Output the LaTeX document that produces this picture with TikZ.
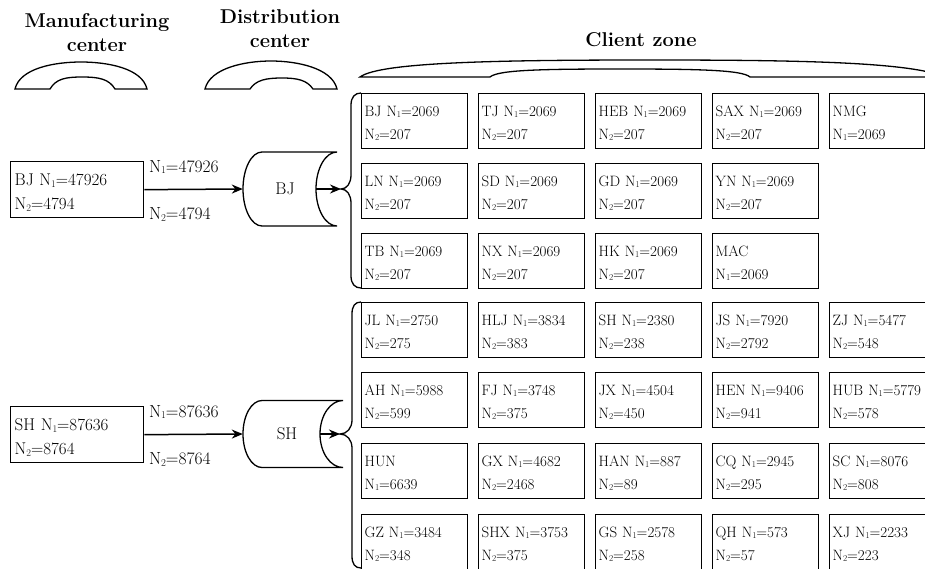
\documentclass[tikz,border=0pt]{standalone}
\usetikzlibrary{arrows.meta,calc}
\newcommand{\lowidx}[1]{\raisebox{-0.08em}{\scalebox{0.6}{#1}}}
\newcommand{\NOne}{N\lowidx{1}}
\newcommand{\NTwo}{N\lowidx{2}}
\begin{document}
\begin{tikzpicture}[x=1pt,y=-1pt,
  zonebox/.style={draw, line width=1.3pt, anchor=north west, inner xsep=3pt, inner ysep=0pt,
    text width=100pt, align=left, text height=22.5pt, text depth=32.5pt,
    font=\fontsize{15}{23.5}\selectfont},
  srcbox/.style={draw, line width=1.3pt, anchor=north west, inner xsep=4pt, inner ysep=0pt,
    text width=125pt, align=left, text height=24pt, text depth=32pt,
    font=\fontsize{17}{24}\selectfont},
  flowlbl/.style={anchor=base west, inner sep=0pt, font=\fontsize{17.5}{18}\selectfont},
  hdr/.style={anchor=north, align=center, inner sep=0pt, font=\fontsize{20}{23.5}\selectfont\bfseries},
  arr/.style={line width=1.5pt, -{Stealth[length=11pt,width=9pt]}},
  outline/.style={line width=1.3pt},
  hub/.style={inner sep=0pt, font=\fontsize{17}{18}\selectfont}]

\useasboundingbox (0,0) rectangle (925,568);
\clip (0,0) rectangle (925,568);

% ---- headers ----
\node[hdr] (mfg) at (97,13.5) {Manufacturing\\center};
\node[hdr] (dst) at (280,9.5) {Distribution\\center};
\node[hdr] (cli) at (641,32) {Client zone};

% header caps
\draw[outline] (15,89) .. controls (20,68) and (55,62) .. (81,62) .. controls (107,62) and (142,68) .. (147,89)
  -- (115,89) .. controls (109,79) and (99,77) .. (82,77) .. controls (65,77) and (56,79) .. (50,89) -- cycle;
\draw[outline] (205,89) .. controls (210,68) and (245,61) .. (271,61) .. controls (297,61) and (332,68) .. (337,89)
  -- (313,89) .. controls (307,80) and (297,78) .. (282,78) .. controls (266,78) and (256,80) .. (250,89) -- cycle;
\draw[outline] (360,77) .. controls (380,62) and (500,60) .. (650,60) .. controls (800,60) and (910,62) .. (945,77)
  -- (750,77) .. controls (742,70) and (700,69) .. (620,69) .. controls (540,69) and (498,70) .. (490,77) -- cycle;

% ---- manufacturing centers ----
\node[srcbox] (bjm) at (10,161) {BJ \NOne=47926\\\NTwo=4794};
\node[srcbox] (shm) at (10,406) {SH \NOne=87636\\\NTwo=8764};

% ---- distribution centers (cylinders) ----
\node[minimum width=94pt, minimum height=74pt, inner sep=0pt] (bjdc) at (290,189) {};
\draw[outline] (262,152) -- (337,152) (262,226) -- (337,226)
  (262,152) .. controls (251.5,152) and (243,168.6) .. (243,189) .. controls (243,209.4) and (251.5,226) .. (262,226)
  (337,152) .. controls (325.4,152) and (316,168.6) .. (316,189) .. controls (316,209.4) and (325.4,226) .. (337,226);
\node[hub] (bjlbl) at (285,189) {BJ};

\node[minimum width=100pt, minimum height=67pt, inner sep=0pt] (shdc) at (293,434) {};
\draw[outline] (262,400.5) -- (343,400.5) (262,467.5) -- (343,467.5)
  (262,400.5) .. controls (251.5,400.5) and (243,415.5) .. (243,434) .. controls (243,452.5) and (251.5,467.5) .. (262,467.5)
  (343,400.5) .. controls (330.3,400.5) and (320,415.5) .. (320,434) .. controls (320,452.5) and (330.3,467.5) .. (343,467.5);
\node[hub] (shlbl) at (287,434) {SH};

% ---- flows from manufacturing to distribution ----
\draw[arr] (bjm.east) -- (bjdc.west)
  node[flowlbl, pos=0, xshift=4pt, yshift=17.5pt] {\NOne=47926}
  node[flowlbl, pos=0, xshift=4pt, yshift=-30pt] {\NTwo=4794};
\draw[arr] (shm.east) -- (shdc.west)
  node[flowlbl, pos=0, xshift=4pt, yshift=17.5pt] {\NOne=87636}
  node[flowlbl, pos=0, xshift=4pt, yshift=-30pt] {\NTwo=8764};

% ---- braces to client zones ----
\coordinate (bjtip) at (341,189);
\coordinate (shtip) at (340,434);
\draw[outline] (361,93) .. controls (355,93) and (351,97) .. (351,105) -- (351,175)
  .. controls (351,183) and (347,189) .. (bjtip) .. controls (347,189) and (351,195) .. (351,203)
  -- (351,276) .. controls (351,284) and (355,288) .. (361,288);
\draw[outline] (361,302) .. controls (355,302) and (352,306) .. (352,314) -- (352,420)
  .. controls (352,428) and (347,434) .. (shtip) .. controls (347,434) and (352,440) .. (352,448)
  -- (352,556) .. controls (352,564) and (355,568) .. (361,568);
\draw[arr] ($(bjdc.east)+(-21,0)$) -- (bjtip);
\draw[arr] ($(shdc.east)+(-23,0)$) -- (shtip);

% ---- clients served from BJ ----
\node[zonebox] (bj11) at (361,93)  {BJ \NOne=2069\\\NTwo=207};
\node[zonebox] (bj12) at (478,93)  {TJ \NOne=2069\\\NTwo=207};
\node[zonebox] (bj13) at (595,93)  {HEB \NOne=2069\\\NTwo=207};
\node[zonebox] (bj14) at (712,93)  {SAX \NOne=2069\\\NTwo=207};
\node[zonebox, text width=89pt] (bj15) at (829,93) {NMG\\\NOne=2069};
\node[zonebox] (bj21) at (361,163) {LN \NOne=2069\\\NTwo=207};
\node[zonebox] (bj22) at (478,163) {SD \NOne=2069\\\NTwo=207};
\node[zonebox] (bj23) at (595,163) {GD \NOne=2069\\\NTwo=207};
\node[zonebox] (bj24) at (712,163) {YN \NOne=2069\\\NTwo=207};
\node[zonebox] (bj31) at (361,233) {TB \NOne=2069\\\NTwo=207};
\node[zonebox] (bj32) at (478,233) {NX \NOne=2069\\\NTwo=207};
\node[zonebox] (bj33) at (595,233) {HK \NOne=2069\\\NTwo=207};
\node[zonebox] (bj34) at (712,233) {MAC\\\NOne=2069};

% ---- clients served from SH ----
\node[zonebox] (sh11) at (361,302) {JL \NOne=2750\\\NTwo=275};
\node[zonebox] (sh12) at (478,302) {HLJ \NOne=3834\\\NTwo=383};
\node[zonebox] (sh13) at (595,302) {SH \NOne=2380\\\NTwo=238};
\node[zonebox] (sh14) at (712,302) {JS \NOne=7920\\\NTwo=2792};
\node[zonebox] (sh15) at (829,302) {ZJ \NOne=5477\\\NTwo=548};
\node[zonebox] (sh21) at (361,372) {AH \NOne=5988\\\NTwo=599};
\node[zonebox] (sh22) at (478,372) {FJ \NOne=3748\\\NTwo=375};
\node[zonebox] (sh23) at (595,372) {JX \NOne=4504\\\NTwo=450};
\node[zonebox] (sh24) at (712,372) {HEN \NOne=9406\\\NTwo=941};
\node[zonebox] (sh25) at (829,372) {HUB \NOne=5779\\\NTwo=578};
\node[zonebox] (sh31) at (361,443) {HUN\\\NOne=6639};
\node[zonebox] (sh32) at (478,443) {GX \NOne=4682\\\NTwo=2468};
\node[zonebox] (sh33) at (595,443) {HAN \NOne=887\\\NTwo=89};
\node[zonebox] (sh34) at (712,443) {CQ \NOne=2945\\\NTwo=295};
\node[zonebox] (sh35) at (829,443) {SC \NOne=8076\\\NTwo=808};
\node[zonebox] (sh41) at (361,514) {GZ \NOne=3484\\\NTwo=348};
\node[zonebox] (sh42) at (478,514) {SHX \NOne=3753\\\NTwo=375};
\node[zonebox] (sh43) at (595,514) {GS \NOne=2578\\\NTwo=258};
\node[zonebox] (sh44) at (712,514) {QH \NOne=573\\\NTwo=57};
\node[zonebox] (sh45) at (829,514) {XJ \NOne=2233\\\NTwo=223};
\end{tikzpicture}
\end{document}
